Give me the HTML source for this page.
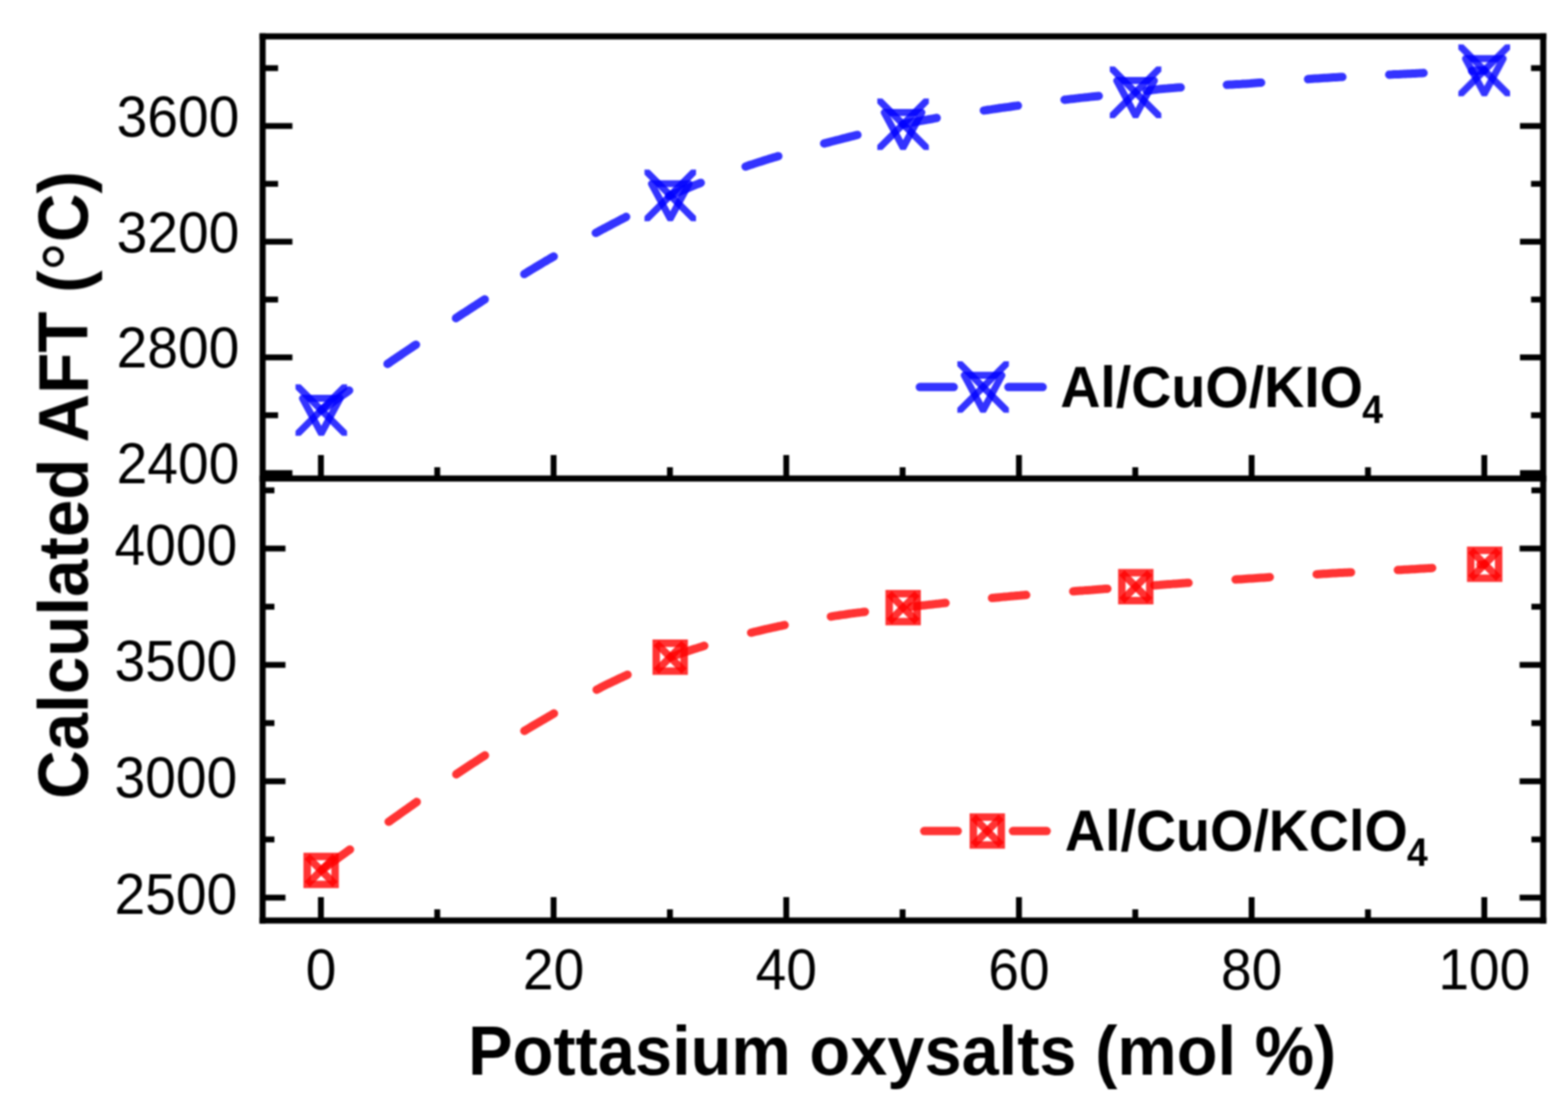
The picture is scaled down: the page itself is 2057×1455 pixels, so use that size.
<!DOCTYPE html>
<html lang="en"><head><meta charset="utf-8"><title>Calculated AFT vs potassium oxysalts</title>
<style>html,body{margin:0;padding:0;background:#fff;}body{width:2057px;height:1455px;}svg{display:block;}</style>
</head><body>
<svg width="2057" height="1455" viewBox="0 0 2057 1455">
<defs><filter id="soft" x="0" y="0" width="2057" height="1455" filterUnits="userSpaceOnUse"><feGaussianBlur stdDeviation="0.85"/></filter><clipPath id="mclip" clipPathUnits="userSpaceOnUse"><rect x="-33.8" y="-33.8" width="67.6" height="67.6"/></clipPath></defs>
<rect width="2057" height="1455" fill="#fff"/>
<g filter="url(#soft)">
<path d="M421.5,538.0 L422.0,537.6 L425.0,535.5 L428.0,533.4 L431.0,531.3 L434.0,529.1 L437.0,527.0 L440.0,524.9 L443.0,522.8 L446.0,520.7 L449.0,518.6 L452.0,516.5 L455.0,514.4 L458.0,512.3 M508.4,477.4 L508.5,477.3 L511.5,475.3 L514.5,473.2 L517.5,471.2 L520.5,469.1 L523.5,467.1 L526.5,465.1 L529.5,463.0 L532.5,461.0 L535.5,459.0 L538.5,457.0 L541.5,454.9 L544.5,452.9 L545.7,452.2 M598.2,417.4 L598.5,417.1 L601.5,415.2 L604.5,413.2 L607.5,411.2 L610.5,409.3 L613.5,407.3 L616.5,405.4 L619.5,403.4 L622.5,401.5 L625.5,399.5 L628.5,397.6 L631.5,395.6 L634.5,393.7 L635.9,392.8 M687.8,359.6 L688.0,359.4 L691.0,357.6 L694.0,355.7 L697.0,353.9 L700.0,352.1 L703.0,350.3 L706.0,348.5 L709.0,346.7 L712.0,344.9 L715.0,343.1 L718.0,341.4 L721.0,339.6 L724.0,337.9 L726.4,336.5 M781.6,305.6 L782.0,305.4 L785.0,303.8 L788.0,302.1 L791.0,300.5 L794.0,299.0 L797.0,297.4 L800.0,295.8 L803.0,294.2 L806.0,292.6 L809.0,291.1 L812.0,289.5 L815.0,287.9 L818.0,286.3 L821.0,284.8 L821.4,284.5 M877.7,257.1 L878.0,257.0 L881.0,255.7 L884.0,254.4 L887.0,253.1 L890.0,251.8 L893.0,250.6 L896.0,249.3 L899.0,248.1 L902.0,246.9 L905.0,245.6 L908.0,244.4 L911.0,243.2 L914.0,242.0 L917.0,240.8 L919.3,239.9 M978.1,218.5 L978.5,218.4 L981.5,217.3 L984.5,216.3 L987.5,215.4 L990.5,214.4 L993.5,213.4 L996.5,212.4 L999.5,211.5 L1002.5,210.5 L1005.5,209.6 L1008.5,208.6 L1011.5,207.7 L1014.5,206.8 L1017.5,205.9 L1020.5,205.0 L1021.0,204.9 M1081.2,188.2 L1081.5,188.1 L1084.5,187.4 L1087.5,186.6 L1090.5,185.8 L1093.5,185.0 L1096.5,184.2 L1099.5,183.5 L1102.5,182.7 L1105.5,181.9 L1108.5,181.2 L1111.5,180.4 L1114.5,179.6 L1117.5,178.8 L1120.5,178.1 L1123.5,177.3 L1124.8,177.0 M1184.5,163.0 L1185.0,162.9 L1188.0,162.3 L1191.0,161.8 L1194.0,161.2 L1197.0,160.6 L1200.0,160.0 L1203.0,159.5 L1206.0,158.9 L1209.0,158.4 L1212.0,157.8 L1215.0,157.3 L1218.0,156.7 L1221.0,156.2 L1224.0,155.7 L1227.0,155.1 L1228.8,154.8 M1290.7,144.9 L1291.0,144.9 L1294.0,144.5 L1297.0,144.0 L1300.0,143.6 L1303.0,143.1 L1306.0,142.7 L1309.0,142.3 L1312.0,141.8 L1315.0,141.4 L1318.0,141.0 L1321.0,140.6 L1324.0,140.2 L1327.0,139.7 L1330.0,139.3 L1333.0,138.9 L1335.3,138.6 M1396.6,130.9 L1397.0,130.8 L1400.0,130.5 L1403.0,130.1 L1406.0,129.8 L1409.0,129.5 L1412.0,129.1 L1415.0,128.8 L1418.0,128.4 L1421.0,128.1 L1424.0,127.8 L1427.0,127.5 L1430.0,127.1 L1433.0,126.8 L1436.0,126.5 L1439.0,126.2 L1441.4,126.0 M1504.2,119.2 L1504.5,119.1 L1507.5,118.7 L1510.5,118.3 L1513.5,117.9 L1516.5,117.5 L1519.5,117.1 L1522.5,116.8 L1525.5,116.5 L1528.5,116.2 L1531.5,116.0 L1534.5,115.7 L1537.5,115.5 L1540.5,115.3 L1543.5,115.0 L1546.5,114.8 L1548.9,114.7 M1609.5,111.3 L1610.0,111.3 L1613.0,111.1 L1616.0,111.0 L1619.0,110.8 L1622.0,110.6 L1625.0,110.4 L1628.0,110.3 L1631.0,110.1 L1634.0,109.9 L1637.0,109.7 L1640.0,109.5 L1643.0,109.2 L1646.0,109.0 L1649.0,108.8 L1652.0,108.6 L1654.4,108.4 M1716.0,103.8 L1716.5,103.7 L1719.5,103.5 L1722.5,103.3 L1725.5,103.1 L1728.5,102.9 L1731.5,102.7 L1734.5,102.5 L1737.5,102.3 L1740.5,102.2 L1743.5,102.0 L1746.5,101.8 L1749.5,101.6 L1752.5,101.5 L1755.5,101.3 L1758.5,101.1 L1761.0,101.0 M1822.5,98.0 L1823.0,97.9 L1826.0,97.8 L1829.0,97.6 L1832.0,97.5 L1835.0,97.4 L1838.0,97.2 L1841.0,97.1 L1844.0,96.9 L1847.0,96.8 L1850.0,96.7 L1853.0,96.5 L1856.0,96.4 L1859.0,96.2 L1862.0,96.1 L1865.0,95.9 L1867.5,95.8 M1931.1,93.0 L1931.5,93.0 L1934.5,92.8 L1937.5,92.7 L1940.5,92.6 L1943.5,92.5 L1946.5,92.3 L1947.2,92.3" fill="none" stroke="#0000ff" stroke-opacity="0.8" stroke-width="11.0" stroke-linecap="round" stroke-linejoin="round"/>
<g transform="translate(421.5,538.0)" clip-path="url(#mclip)" fill="none" stroke="#0000ff" stroke-opacity="0.8" stroke-width="9.2" stroke-linecap="butt" stroke-linejoin="round">
<path d="M-42,-42 L42,42"/>
<path d="M-42,42 L42,-42"/>
<path d="M-24.7,-15.4 L24.7,-15.4 L0,30.5 Z"/>
</g>
<g transform="translate(879.3,256.4)" clip-path="url(#mclip)" fill="none" stroke="#0000ff" stroke-opacity="0.8" stroke-width="9.2" stroke-linecap="butt" stroke-linejoin="round">
<path d="M-42,-42 L42,42"/>
<path d="M-42,42 L42,-42"/>
<path d="M-24.7,-15.4 L24.7,-15.4 L0,30.5 Z"/>
</g>
<g transform="translate(1184.7,163.0)" clip-path="url(#mclip)" fill="none" stroke="#0000ff" stroke-opacity="0.8" stroke-width="9.2" stroke-linecap="butt" stroke-linejoin="round">
<path d="M-42,-42 L42,42"/>
<path d="M-42,42 L42,-42"/>
<path d="M-24.7,-15.4 L24.7,-15.4 L0,30.5 Z"/>
</g>
<g transform="translate(1489.7,121.1)" clip-path="url(#mclip)" fill="none" stroke="#0000ff" stroke-opacity="0.8" stroke-width="9.2" stroke-linecap="butt" stroke-linejoin="round">
<path d="M-42,-42 L42,42"/>
<path d="M-42,42 L42,-42"/>
<path d="M-24.7,-15.4 L24.7,-15.4 L0,30.5 Z"/>
</g>
<g transform="translate(1947.2,92.3)" clip-path="url(#mclip)" fill="none" stroke="#0000ff" stroke-opacity="0.8" stroke-width="9.2" stroke-linecap="butt" stroke-linejoin="round">
<path d="M-42,-42 L42,42"/>
<path d="M-42,42 L42,-42"/>
<path d="M-24.7,-15.4 L24.7,-15.4 L0,30.5 Z"/>
</g>
<path d="M422.7,1141.0 L422.8,1140.9 L425.8,1138.7 L428.8,1136.5 L431.8,1134.3 L434.8,1132.1 L437.8,1130.0 L440.8,1127.8 L443.8,1125.6 L446.8,1123.4 L449.8,1121.3 L452.8,1119.1 L455.8,1116.9 L458.8,1114.7 L459.1,1114.6 M509.9,1078.1 L510.3,1077.9 L513.3,1075.8 L516.3,1073.6 L519.3,1071.5 L522.3,1069.4 L525.3,1067.3 L528.3,1065.1 L531.3,1063.0 L534.3,1060.9 L537.3,1058.8 L540.3,1056.7 L543.3,1054.5 L546.3,1052.4 L546.7,1052.1 M598.6,1015.9 L598.8,1015.7 L601.8,1013.7 L604.8,1011.7 L607.8,1009.7 L610.8,1007.7 L613.8,1005.7 L616.8,1003.7 L619.8,1001.7 L622.8,999.8 L625.8,997.8 L628.8,995.9 L631.8,993.9 L634.8,992.0 L636.2,991.1 M687.9,958.9 L688.3,958.7 L691.3,956.9 L694.3,955.1 L697.3,953.3 L700.3,951.5 L703.3,949.7 L706.3,948.0 L709.3,946.2 L712.3,944.5 L715.3,942.7 L718.3,941.0 L721.3,939.2 L724.3,937.5 L726.7,936.1 M782.7,904.9 L782.8,904.8 L785.8,903.3 L788.8,901.7 L791.8,900.2 L794.8,898.7 L797.8,897.2 L800.8,895.8 L803.8,894.3 L806.8,892.9 L809.8,891.5 L812.8,890.1 L815.8,888.7 L818.8,887.3 L821.8,885.9 L823.2,885.2 M881.2,861.5 L881.3,861.5 L884.3,860.4 L887.3,859.4 L890.3,858.3 L893.3,857.3 L896.3,856.3 L899.3,855.3 L902.3,854.3 L905.3,853.3 L908.3,852.3 L911.3,851.3 L914.3,850.4 L917.3,849.4 L920.3,848.5 L923.3,847.5 L923.9,847.3 M985.4,830.1 L985.8,830.0 L988.8,829.2 L991.8,828.5 L994.8,827.8 L997.8,827.1 L1000.8,826.4 L1003.8,825.7 L1006.8,825.0 L1009.8,824.3 L1012.8,823.7 L1015.8,823.0 L1018.8,822.4 L1021.8,821.7 L1024.8,821.1 L1027.8,820.4 L1029.3,820.1 M1090.0,808.9 L1090.3,808.9 L1093.3,808.4 L1096.3,807.9 L1099.3,807.5 L1102.3,807.0 L1105.3,806.6 L1108.3,806.2 L1111.3,805.7 L1114.3,805.3 L1117.3,804.9 L1120.3,804.5 L1123.3,804.1 L1126.3,803.7 L1129.3,803.4 L1132.3,803.0 L1134.6,802.7 M1195.6,796.0 L1195.8,796.0 L1198.8,795.6 L1201.8,795.3 L1204.8,795.0 L1207.8,794.6 L1210.8,794.3 L1213.8,794.0 L1216.8,793.6 L1219.8,793.3 L1222.8,793.0 L1225.8,792.6 L1228.8,792.3 L1231.8,792.0 L1234.8,791.6 L1237.8,791.3 L1240.4,791.0 M1301.4,784.6 L1301.8,784.6 L1304.8,784.3 L1307.8,784.0 L1310.8,783.7 L1313.8,783.4 L1316.8,783.1 L1319.8,782.9 L1322.8,782.6 L1325.8,782.3 L1328.8,782.1 L1331.8,781.8 L1334.8,781.5 L1337.8,781.3 L1340.8,781.0 L1343.8,780.8 L1346.2,780.6 M1407.9,775.8 L1408.3,775.8 L1411.3,775.5 L1414.3,775.3 L1417.3,775.1 L1420.3,774.9 L1423.3,774.6 L1426.3,774.4 L1429.3,774.2 L1432.3,774.0 L1435.3,773.7 L1438.3,773.5 L1441.3,773.3 L1444.3,773.1 L1447.3,772.8 L1450.3,772.6 L1452.7,772.4 M1514.3,767.9 L1514.8,767.9 L1517.8,767.7 L1520.8,767.5 L1523.8,767.2 L1526.8,767.0 L1529.8,766.8 L1532.8,766.6 L1535.8,766.4 L1538.8,766.1 L1541.8,765.9 L1544.8,765.7 L1547.8,765.5 L1550.8,765.3 L1553.8,765.1 L1556.8,764.8 L1559.2,764.7 M1620.9,760.3 L1621.3,760.3 L1624.3,760.1 L1627.3,759.9 L1630.3,759.7 L1633.3,759.5 L1636.3,759.3 L1639.3,759.1 L1642.3,758.9 L1645.3,758.7 L1648.3,758.5 L1651.3,758.3 L1654.3,758.1 L1657.3,757.9 L1660.3,757.7 L1663.3,757.5 L1665.8,757.3 M1727.3,753.4 L1727.8,753.4 L1730.8,753.2 L1733.8,753.0 L1736.8,752.8 L1739.8,752.7 L1742.8,752.5 L1745.8,752.3 L1748.8,752.1 L1751.8,752.0 L1754.8,751.8 L1757.8,751.6 L1760.8,751.5 L1763.8,751.3 L1766.8,751.2 L1769.8,751.0 L1772.3,750.9 M1833.8,747.8 L1834.3,747.8 L1837.3,747.7 L1840.3,747.5 L1843.3,747.3 L1846.3,747.2 L1849.3,747.0 L1852.3,746.8 L1855.3,746.7 L1858.3,746.5 L1861.3,746.3 L1864.3,746.1 L1867.3,745.9 L1870.3,745.7 L1873.3,745.6 L1876.3,745.4 L1878.8,745.2 M1942.1,740.7 L1942.3,740.7 L1945.3,740.5 L1947.7,740.3" fill="none" stroke="#ff0000" stroke-opacity="0.8" stroke-width="11.0" stroke-linecap="round" stroke-linejoin="round"/>
<g fill="none" stroke="#ff0000" stroke-opacity="0.8" stroke-width="9.8" stroke-linejoin="miter" stroke-linecap="butt">
<rect x="403.0" y="1123.7" width="36.6" height="36.6"/>
<path d="M403.0,1123.7 L439.6,1160.3"/>
<path d="M403.0,1160.3 L439.6,1123.7"/>
</g>
<g fill="none" stroke="#ff0000" stroke-opacity="0.8" stroke-width="9.8" stroke-linejoin="miter" stroke-linecap="butt">
<rect x="860.9" y="843.9" width="36.6" height="36.6"/>
<path d="M860.9,843.9 L897.5,880.5"/>
<path d="M860.9,880.5 L897.5,843.9"/>
</g>
<g fill="none" stroke="#ff0000" stroke-opacity="0.8" stroke-width="9.8" stroke-linejoin="miter" stroke-linecap="butt">
<rect x="1166.5" y="778.9" width="36.6" height="36.6"/>
<path d="M1166.5,778.9 L1203.1,815.5"/>
<path d="M1166.5,815.5 L1203.1,778.9"/>
</g>
<g fill="none" stroke="#ff0000" stroke-opacity="0.8" stroke-width="9.8" stroke-linejoin="miter" stroke-linecap="butt">
<rect x="1471.7" y="751.4" width="36.6" height="36.6"/>
<path d="M1471.7,751.4 L1508.3,788.0"/>
<path d="M1471.7,788.0 L1508.3,751.4"/>
</g>
<g fill="none" stroke="#ff0000" stroke-opacity="0.8" stroke-width="9.8" stroke-linejoin="miter" stroke-linecap="butt">
<rect x="1929.4" y="722.0" width="36.6" height="36.6"/>
<path d="M1929.4,722.0 L1966.0,758.6"/>
<path d="M1929.4,758.6 L1966.0,722.0"/>
</g>
<g fill="none" stroke="#0000ff" stroke-opacity="0.8" stroke-width="11.0" stroke-linecap="round">
<path d="M1206.7,507.8 L1251.1,507.8"/><path d="M1322.9,507.8 L1367.8,507.8"/></g>
<g transform="translate(1289.7,507.8)" clip-path="url(#mclip)" fill="none" stroke="#0000ff" stroke-opacity="0.8" stroke-width="9.2" stroke-linecap="butt" stroke-linejoin="round">
<path d="M-42,-42 L42,42"/>
<path d="M-42,42 L42,-42"/>
<path d="M-24.7,-15.4 L24.7,-15.4 L0,30.5 Z"/>
</g>
<g fill="none" stroke="#ff0000" stroke-opacity="0.8" stroke-width="11.0" stroke-linecap="round">
<path d="M1212.5,1090.3 L1256.4,1090.3"/><path d="M1328.9,1090.3 L1373.1,1090.3"/></g>
<g fill="none" stroke="#ff0000" stroke-opacity="0.8" stroke-width="9.8" stroke-linejoin="miter" stroke-linecap="butt">
<rect x="1276.9" y="1072.0" width="36.6" height="36.6"/>
<path d="M1276.9,1072.0 L1313.5,1108.6"/>
<path d="M1276.9,1108.6 L1313.5,1072.0"/>
</g>
<g fill="#000" stroke="none">
<rect x="340.50" y="43.70" width="8.0" height="1168.00"/>
<rect x="2020.50" y="43.70" width="8.0" height="1168.00"/>
<rect x="340.50" y="43.70" width="1688.00" height="8.0"/>
<rect x="340.50" y="623.80" width="1688.00" height="8.0"/>
<rect x="340.50" y="1203.70" width="1688.00" height="8.0"/>
<rect x="347.50" y="616.85" width="36.10" height="7.7"/>
<rect x="1994.00" y="616.85" width="27.50" height="7.7"/>
<rect x="347.50" y="540.95" width="17.30" height="7.7"/>
<rect x="2008.50" y="540.95" width="13.00" height="7.7"/>
<rect x="347.50" y="465.05" width="36.10" height="7.7"/>
<rect x="1994.00" y="465.05" width="27.50" height="7.7"/>
<rect x="347.50" y="389.15" width="17.30" height="7.7"/>
<rect x="2008.50" y="389.15" width="13.00" height="7.7"/>
<rect x="347.50" y="313.25" width="36.10" height="7.7"/>
<rect x="1994.00" y="313.25" width="27.50" height="7.7"/>
<rect x="347.50" y="237.35" width="17.30" height="7.7"/>
<rect x="2008.50" y="237.35" width="13.00" height="7.7"/>
<rect x="347.50" y="161.45" width="36.10" height="7.7"/>
<rect x="1994.00" y="161.45" width="27.50" height="7.7"/>
<rect x="347.50" y="85.55" width="17.30" height="7.7"/>
<rect x="2008.50" y="85.55" width="13.00" height="7.7"/>
<rect x="347.50" y="1173.85" width="27.00" height="7.7"/>
<rect x="1993.50" y="1173.85" width="28.00" height="7.7"/>
<rect x="347.50" y="1097.51" width="12.50" height="7.7"/>
<rect x="2009.00" y="1097.51" width="12.50" height="7.7"/>
<rect x="347.50" y="1021.18" width="27.00" height="7.7"/>
<rect x="1993.50" y="1021.18" width="28.00" height="7.7"/>
<rect x="347.50" y="944.84" width="12.50" height="7.7"/>
<rect x="2009.00" y="944.84" width="12.50" height="7.7"/>
<rect x="347.50" y="868.50" width="27.00" height="7.7"/>
<rect x="1993.50" y="868.50" width="28.00" height="7.7"/>
<rect x="347.50" y="792.16" width="12.50" height="7.7"/>
<rect x="2009.00" y="792.16" width="12.50" height="7.7"/>
<rect x="347.50" y="715.82" width="27.00" height="7.7"/>
<rect x="1993.50" y="715.82" width="28.00" height="7.7"/>
<rect x="347.50" y="639.49" width="12.50" height="7.7"/>
<rect x="2009.00" y="639.49" width="12.50" height="7.7"/>
<rect x="417.15" y="597.00" width="7.7" height="30.80"/>
<rect x="417.15" y="1177.00" width="7.7" height="30.70"/>
<rect x="569.77" y="613.00" width="7.7" height="14.80"/>
<rect x="569.77" y="1193.00" width="7.7" height="14.70"/>
<rect x="722.39" y="597.00" width="7.7" height="30.80"/>
<rect x="722.39" y="1177.00" width="7.7" height="30.70"/>
<rect x="875.01" y="613.00" width="7.7" height="14.80"/>
<rect x="875.01" y="1193.00" width="7.7" height="14.70"/>
<rect x="1027.63" y="597.00" width="7.7" height="30.80"/>
<rect x="1027.63" y="1177.00" width="7.7" height="30.70"/>
<rect x="1180.25" y="613.00" width="7.7" height="14.80"/>
<rect x="1180.25" y="1193.00" width="7.7" height="14.70"/>
<rect x="1332.87" y="597.00" width="7.7" height="30.80"/>
<rect x="1332.87" y="1177.00" width="7.7" height="30.70"/>
<rect x="1485.49" y="613.00" width="7.7" height="14.80"/>
<rect x="1485.49" y="1193.00" width="7.7" height="14.70"/>
<rect x="1638.11" y="597.00" width="7.7" height="30.80"/>
<rect x="1638.11" y="1177.00" width="7.7" height="30.70"/>
<rect x="1790.73" y="613.00" width="7.7" height="14.80"/>
<rect x="1790.73" y="1193.00" width="7.7" height="14.70"/>
<rect x="1943.35" y="597.00" width="7.7" height="30.80"/>
<rect x="1943.35" y="1177.00" width="7.7" height="30.70"/>
</g>
<g font-family="'Liberation Sans', Arial, Helvetica, sans-serif" fill="#000">
<text transform="translate(313.86,178.73) scale(1.0000,1.0600)" font-size="72.3" font-weight="normal" text-anchor="end" >3600</text>
<text transform="translate(313.86,330.53) scale(1.0000,1.0600)" font-size="72.3" font-weight="normal" text-anchor="end" >3200</text>
<text transform="translate(313.86,482.33) scale(1.0000,1.0600)" font-size="72.3" font-weight="normal" text-anchor="end" >2800</text>
<text transform="translate(313.86,634.13) scale(1.0000,1.0600)" font-size="72.3" font-weight="normal" text-anchor="end" >2400</text>
<text transform="translate(311.16,740.71) scale(1.0000,1.0600)" font-size="72.3" font-weight="normal" text-anchor="end" >4000</text>
<text transform="translate(311.16,893.38) scale(1.0000,1.0600)" font-size="72.3" font-weight="normal" text-anchor="end" >3500</text>
<text transform="translate(311.16,1046.06) scale(1.0000,1.0600)" font-size="72.3" font-weight="normal" text-anchor="end" >3000</text>
<text transform="translate(311.16,1198.73) scale(1.0000,1.0600)" font-size="72.3" font-weight="normal" text-anchor="end" >2500</text>
<text transform="translate(421.00,1298.13) scale(1.0000,1.0600)" font-size="72.3" font-weight="normal" text-anchor="middle" >0</text>
<text transform="translate(726.24,1298.13) scale(1.0000,1.0600)" font-size="72.3" font-weight="normal" text-anchor="middle" >20</text>
<text transform="translate(1031.48,1298.13) scale(1.0000,1.0600)" font-size="72.3" font-weight="normal" text-anchor="middle" >40</text>
<text transform="translate(1336.72,1298.13) scale(1.0000,1.0600)" font-size="72.3" font-weight="normal" text-anchor="middle" >60</text>
<text transform="translate(1641.96,1298.13) scale(1.0000,1.0600)" font-size="72.3" font-weight="normal" text-anchor="middle" >80</text>
<text transform="translate(1947.20,1298.13) scale(1.0000,1.0600)" font-size="72.3" font-weight="normal" text-anchor="middle" >100</text>
<text transform="translate(614.01,1409.60) scale(1.0000,1.0400)" font-size="87.6" font-weight="bold" text-anchor="start" >Pottasium oxysalts (mol %)</text>
<text transform="translate(115.20,1048.20) rotate(-90) scale(1.0000,1.0400)" font-size="88.3" font-weight="bold" text-anchor="start" >Calculated AFT (<tspan font-weight="normal" font-size="96" dx="-1.2" dy="10">°</tspan><tspan dy="-10">C)</tspan></text>
<text transform="translate(1390.88,534.30) scale(1.0000,1.0500)" font-size="72.95" font-weight="bold" text-anchor="start" >Al/CuO/KIO<tspan font-size="49" dx="-1" dy="19.3">4</tspan></text>
<text transform="translate(1396.98,1115.70) scale(1.0000,1.0500)" font-size="72.95" font-weight="bold" text-anchor="start" >Al/CuO/KClO<tspan font-size="49" dx="-1" dy="19.3">4</tspan></text>
</g>
</g>
</svg></body></html>
